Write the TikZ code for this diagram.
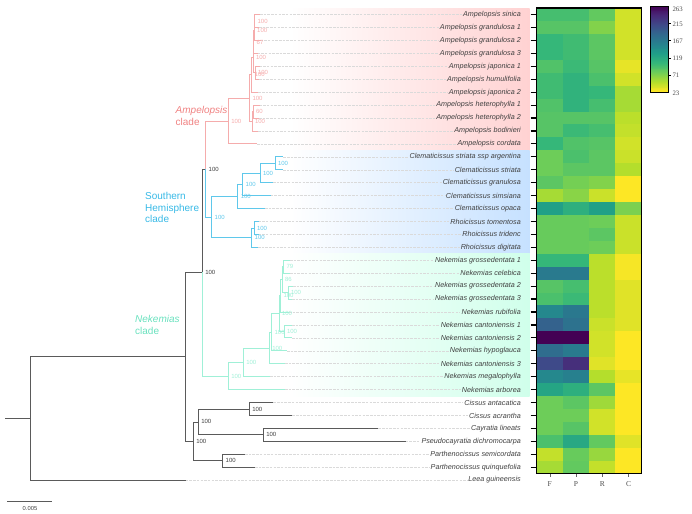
\documentclass[tikz,border=0pt]{standalone}
\usepackage{fontspec}
\setmainfont{Liberation Serif}
\setsansfont{Liberation Sans}
\usetikzlibrary{calc}

\definecolor{ampcol}{RGB}{240,130,130}
\definecolor{ampbr}{RGB}{245,172,172}
\definecolor{shcol}{RGB}{55,185,230}
\definecolor{shbr}{RGB}{95,200,235}
\definecolor{nekcol}{RGB}{105,225,190}
\definecolor{nekbr}{RGB}{160,240,215}
\definecolor{backcol}{RGB}{90,90,90}
\definecolor{ampband}{RGB}{255,210,210}
\definecolor{shband}{RGB}{198,225,255}
\definecolor{nekband}{RGB}{208,255,235}
\definecolor{leadcol}{RGB}{218,218,218}
\definecolor{vc0}{HTML}{FDE725}
\definecolor{vc1}{HTML}{B4DE2C}
\definecolor{vc2}{HTML}{6DCD59}
\definecolor{vc3}{HTML}{35B779}
\definecolor{vc4}{HTML}{1F9E89}
\definecolor{vc5}{HTML}{26828E}
\definecolor{vc6}{HTML}{31688E}
\definecolor{vc7}{HTML}{3E4A89}
\definecolor{vc8}{HTML}{482878}
\definecolor{vc9}{HTML}{440154}
\definecolor{vc10}{HTML}{440154}

\newcommand\setvir[1]{%
  \pgfmathtruncatemacro\vlo{#1/10}%
  \pgfmathtruncatemacro\vhi{\vlo+1}%
  \pgfmathtruncatemacro\vpc{100-10*(#1-10*\vlo)}%
  \colorlet{vir}{vc\vlo!\vpc!vc\vhi}}

\tikzset{
  taxon/.style={anchor=east, inner sep=1pt, text=black!75,
    font=\fontsize{7.2}{8}\selectfont\sffamily\itshape},
  leader/.style={leadcol, line width=0.5pt, dash pattern=on 2.5pt off 1.2pt},
  branch/.style={line width=0.8pt},
  boot/.style={anchor=west, inner sep=0pt, xshift=2.8pt,
    font=\fontsize{6}{6}\selectfont\sffamily},
  cladelab/.style={anchor=west, inner sep=0pt, align=left,
    font=\fontsize{10}{11.8}\selectfont\sffamily},
  axlab/.style={font=\fontsize{7.5}{8}\selectfont, text=black!70},
}

\begin{document}
\begin{tikzpicture}[x=1pt, y=-1pt]
  \useasboundingbox (0,0) rectangle (692,513);

  \shade[left color=white, right color=ampband] (290,8.1) rectangle (529.5,150.33);
  \shade[left color=white, right color=shband] (290,150.33) rectangle (529.5,253.77);
  \shade[left color=white, right color=nekband] (290,253.77) rectangle (529.5,396);

  \foreach \nm/\tx [count=\i from 0] in {
      Ampelopsis sinica/260, Ampelopsis grandulosa 1/259,
      Ampelopsis grandulosa 2/260.5, Ampelopsis grandulosa 3/257.5,
      Ampelopsis japonica 1/259.5, Ampelopsis humulifolia/259,
      Ampelopsis japonica 2/258.3, Ampelopsis heterophylla 1/259.5,
      Ampelopsis heterophylla 2/259, Ampelopsis bodinieri/258,
      Ampelopsis cordata/257,
      Clematicissus striata ssp argentina/283.3, Clematicissus striata/283,
      Clematicissus granulosa/273, Clematicissus simsiana/270.7,
      Clematicissus opaca/265, Rhoicissus tomentosa/258.5,
      Rhoicissus tridenc/258.5, Rhoicissus digitata/258,
      Nekemias grossedentata 1/290, Nekemias celebica/290,
      Nekemias grossedentata 2/293, Nekemias grossedentata 3/292,
      Nekemias rubifolia/289, Nekemias cantoniensis 1/292,
      Nekemias cantoniensis 2/292, Nekemias hypoglauca/287,
      Nekemias cantoniensis 3/285, Nekemias megalophylla/270,
      Nekemias arborea/285,
      Cissus antacatica/273.3, Cissus acrantha/292.3,
      Cayratia lineats/378.3, Pseudocayratia dichromocarpa/405.7,
      Parthenocissus semicordata/245, Parthenocissus quinquefolia/255,
      Leea guineensis/185.7} {
    \coordinate (t\i) at (\tx,14.6+12.93*\i);
    \node[taxon] (l\i) at (522,14.6+12.93*\i) {\nm};
    \draw[leader] (t\i) -- (l\i.west);
  }

  \coordinate (a0) at (228.3,120.97);
  \coordinate (aB) at (249.5,98.04);
  \coordinate (aU) at (251.7,74.81);
  \coordinate (aV) at (253,57.43);
  \coordinate (aA) at (253.7,42.08);
  \coordinate (aS2) at (254.2,30.77);
  \coordinate (aS1) at (254.6,21.07);
  \coordinate (aJH) at (255,72.79);
  \coordinate (aH) at (252,121.27);
  \coordinate (aH2) at (253,111.58);
  \coordinate (s0) at (211.7,217.04);
  \coordinate (sC) at (237.8,196.43);
  \coordinate (sC1) at (242.7,184.31);
  \coordinate (sC2) at (260,173);
  \coordinate (sC3) at (275,163.3);
  \coordinate (sR) at (251.7,237.64);
  \coordinate (sR1) at (254,227.95);
  \coordinate (k1) at (228.3,375.94);
  \coordinate (k2) at (243.3,362.3);
  \coordinate (k3) at (269.3,347.96);
  \coordinate (k4) at (271.6,332.2);
  \coordinate (k5) at (279,313.61);
  \coordinate (k6) at (284,331.39);
  \coordinate (k7) at (280.5,295.83);
  \coordinate (k8) at (282,279.67);
  \coordinate (k9) at (283.5,266.74);
  \coordinate (k10) at (288,292.6);
  \coordinate (rootbase) at (5,418.49);
  \coordinate (root) at (30,418.49);
  \coordinate (core) at (185.7,356.89);
  \coordinate (ing) at (202.3,272.47);
  \coordinate (nAS) at (205.7,169);
  \coordinate (og) at (193.3,441.3);
  \coordinate (og1) at (198.3,421.9);
  \coordinate (cis) at (249.3,408.97);
  \coordinate (cp) at (263.3,434.83);
  \coordinate (par) at (222.7,460.69);

  \draw[branch, backcol] (rootbase) -- (root);
  \foreach \pa/\ch in {root/core, root/t36, core/ing, core/og, ing/nAS, og/og1,
      og/par, og1/cis, og1/cp, cis/t30, cis/t31, cp/t32, cp/t33, par/t34, par/t35}
    \draw[branch, backcol] (\pa) |- (\ch);
  \foreach \pa/\ch in {nAS/a0, a0/aB, a0/t10, aB/aU, aB/aH, aU/aV, aU/t6, aV/aA,
      aV/aJH, aA/aS2, aA/t3, aS2/aS1, aS2/t2, aS1/t0, aS1/t1, aJH/t4, aJH/t5,
      aH/aH2, aH/t9, aH2/t7, aH2/t8}
    \draw[branch, ampbr] (\pa) |- (\ch);
  \foreach \pa/\ch in {nAS/s0, s0/sC, s0/sR, sC/sC1, sC/t15, sC1/sC2, sC1/t14,
      sC2/sC3, sC2/t13, sC3/t11, sC3/t12, sR/sR1, sR/t18, sR1/t16, sR1/t17}
    \draw[branch, shbr] (\pa) |- (\ch);
  \foreach \pa/\ch in {ing/k1, k1/k2, k1/t29, k2/k3, k2/t28, k3/k4, k3/t27,
      k4/k5, k4/t26, k5/k7, k5/k6, k6/t24, k6/t25, k7/k8, k7/t23, k8/k9,
      k8/k10, k9/t19, k9/t20, k10/t21, k10/t22}
    \draw[branch, nekbr] (\pa) |- (\ch);

  \foreach \n/\v in {nAS/100, ing/100, og/100, og1/100, cis/100, cp/100, par/100}
    \node[boot, text=black!75] (b\n) at (\n) {\v};
  \foreach \n/\v in {a0/100, aB/100, aU/100, aV/100, aA/67, aS2/100, aS1/100,
      aJH/100, aH/100, aH2/60}
    \node[boot, text=ampbr] (b\n) at (\n) {\v};
  \foreach \n/\v in {s0/100, sC/100, sC1/100, sC2/100, sC3/100, sR/100, sR1/100}
    \node[boot, text=shbr] (b\n) at (\n) {\v};
  \foreach \n/\v in {k1/100, k2/100, k3/100, k4/100, k5/100, k6/100, k7/100,
      k8/86, k9/79, k10/100}
    \node[boot, text=nekbr] (b\n) at (\n) {\v};

  \node[cladelab, text=ampcol] (cladeA) at (175.5,116) {\textit{Ampelopsis}\\clade};
  \node[cladelab, text=shcol] (cladeS) at (145,207.5) {Southern\\Hemisphere\\clade};
  \node[cladelab, text=nekcol] (cladeN) at (135,325) {\textit{Nekemias}\\clade};

  \coordinate (sbl) at (7.3,501.7);
  \coordinate (sbr) at (52.3,501.7);
  \draw[line width=0.7pt, backcol] (sbl) -- (sbr);
  \node[font=\fontsize{5.8}{6}\selectfont\sffamily, text=black!75] (sblab) at (30,508.5) {0.005};

  \begin{scope}
  \foreach \f/\p/\r/\cc [count=\i from 0] in {
      27/27/22/6, 24/24/17/6, 30/28/23/6, 30/28/23/6, 25/29/24/3, 28/32/26/6,
      28/32/30/12, 25/32/27/12, 24/24/24/9, 24/29/27/8, 30/25/24/6, 20/26/23/7,
      20/23/23/10, 23/19/17/0, 12/16/7/0, 39/33/39/18, 21/21/20/7, 21/21/23/7,
      21/21/20/7, 30/30/9/1, 53/53/9/1, 24/27/9/4, 26/29/9/4, 48/54/9/4,
      62/56/7/4, 90/90/6/0, 58/53/6/0, 70/78/4/0, 48/51/10/3, 37/33/23/0,
      20/23/13/0, 20/20/6/0, 20/24/6/0, 26/36/22/4, 8/21/14/0, 12/22/8/0} {
    \foreach \v [count=\j from 0] in {\f,\p,\r,\cc} {
      \setvir{\v}
      \fill[vir] (536.7+26.25*\j,8.1+12.93*\i) rectangle ++(26.55,13.23);
    }
    \draw[line width=1.2pt] (530.5,14.6+12.93*\i) -- (536.7,14.6+12.93*\i);
  }
  \draw[line width=1.2pt] (536.7,8.1) rectangle (641.7,473.6);
  \foreach \lab [count=\j from 0] in {F,P,R,C} {
    \draw[black!60, line width=0.5pt] (549.8+26.25*\j,473.6) -- (549.8+26.25*\j,476.8);
    \node[axlab] (col\lab) at (549.8+26.25*\j,484.5) {\lab};
  }
  \end{scope}

  \begin{scope}
  \foreach \k in {0,...,89} {
    \setvir{\k}
    \fill[vir] (650.7,92.3-0.9511*\k) rectangle (668.3,92.3-0.9511*\k-1.25);
  }
  \draw[line width=0.6pt] (650.7,6.7) rectangle (668.3,92.3);
  \foreach \val/\yy in {215/23.8, 167/40.9, 119/58.1, 71/75.2}
    \draw[line width=0.8pt] (668.3,\yy) -- (670.6,\yy);
  \foreach \val/\yy in {263/9, 215/23.8, 167/40.9, 119/58.1, 71/75.2, 23/92.8}
    \node[axlab, anchor=west, inner sep=0pt, font=\fontsize{6.8}{7}\selectfont] (cb\val) at (672.3,\yy) {\val};
  \end{scope}

\end{tikzpicture}
\end{document}
